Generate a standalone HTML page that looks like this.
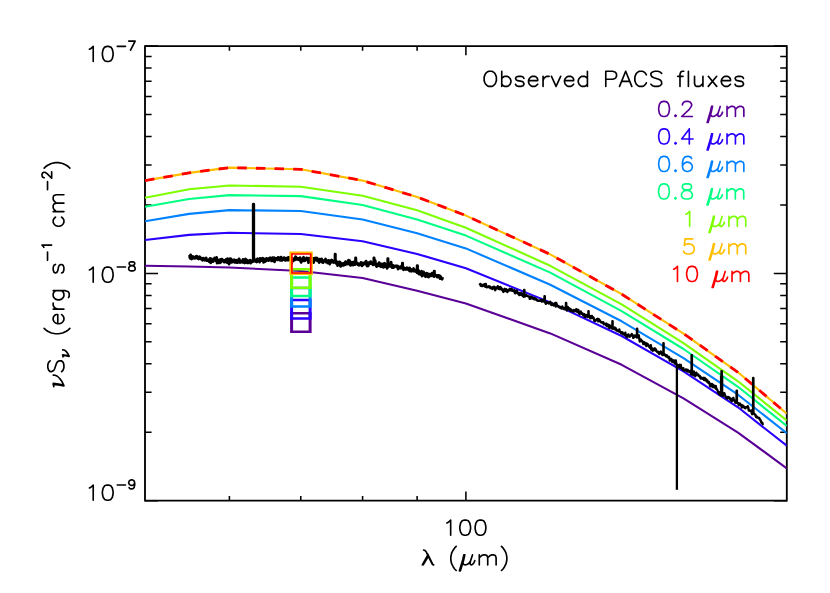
<!DOCTYPE html>
<html><head><meta charset="utf-8"><title>SED plot</title>
<style>html,body{margin:0;padding:0;background:#fff;font-family:"Liberation Sans",sans-serif;}svg{display:block}</style>
</head><body>
<svg width="830" height="593" viewBox="0 0 830 593">
<rect width="830" height="593" fill="#fff"/>
<g stroke="#000" fill="none" stroke-linecap="butt">
<path stroke-width="1.85" d="M145 45.175 V501.575 M786.8 45.175 V501.575"/>
<path stroke-width="1.75" d="M145 46.05 H786.8 M145 500.7 H786.8"/>
<path stroke-width="1.55" d="M229.41 500.70 v-4.8 M229.41 46.05 v4.8 M300.77 500.70 v-4.8 M300.77 46.05 v4.8 M362.59 500.70 v-4.8 M362.59 46.05 v4.8 M417.12 500.70 v-4.8 M417.12 46.05 v4.8 M465.90 500.70 v-9.2 M465.90 46.05 v9.2"/>
<path stroke-width="1.5" d="M145.00 46.05 h13 M786.80 46.05 h-13 M145.00 273.38 h13 M786.80 273.38 h-13 M145.00 204.94 h6.6 M786.80 204.94 h-6.6 M145.00 164.91 h6.6 M786.80 164.91 h-6.6 M145.00 136.51 h6.6 M786.80 136.51 h-6.6 M145.00 114.48 h6.6 M786.80 114.48 h-6.6 M145.00 96.48 h6.6 M786.80 96.48 h-6.6 M145.00 81.26 h6.6 M786.80 81.26 h-6.6 M145.00 68.08 h6.6 M786.80 68.08 h-6.6 M145.00 56.45 h6.6 M786.80 56.45 h-6.6 M145.00 500.70 h13 M786.80 500.70 h-13 M145.00 432.27 h6.6 M786.80 432.27 h-6.6 M145.00 392.24 h6.6 M786.80 392.24 h-6.6 M145.00 363.84 h6.6 M786.80 363.84 h-6.6 M145.00 341.81 h6.6 M786.80 341.81 h-6.6 M145.00 323.81 h6.6 M786.80 323.81 h-6.6 M145.00 308.59 h6.6 M786.80 308.59 h-6.6 M145.00 295.41 h6.6 M786.80 295.41 h-6.6 M145.00 283.78 h6.6 M786.80 283.78 h-6.6"/>
</g>
<clipPath id="cp"><rect x="145" y="46.05" width="641.8" height="454.65"/></clipPath>
<g clip-path="url(#cp)" fill="none" stroke-linejoin="round">
<polyline points="145.0,265.8 189.1,266.5 229.4,267.5 300.8,271.0 362.6,278.0 417.1,290.8 465.9,303.6 550.3,333.4 621.7,364.8 683.5,398.4 738.0,432.6 786.8,468.3" stroke="#5a0096" stroke-width="2.1"/>
<polyline points="145.0,240.0 189.1,234.9 229.4,232.8 300.8,234.0 362.6,241.2 417.1,253.9 465.9,268.3 550.3,302.4 621.7,336.0 683.5,371.3 738.0,407.3 786.8,445.8" stroke="#2a00ff" stroke-width="2.1"/>
<polyline points="145.0,221.2 189.1,213.9 229.4,210.1 300.8,211.0 362.6,219.5 417.1,233.2 465.9,248.4 550.3,284.7 621.7,321.3 683.5,358.2 738.0,394.7 786.8,433.3" stroke="#0082ff" stroke-width="2.1"/>
<polyline points="145.0,206.7 189.1,199.0 229.4,195.1 300.8,196.1 362.6,205.0 417.1,219.5 465.9,235.6 550.3,272.6 621.7,311.2 683.5,349.0 738.0,386.8 786.8,426.0" stroke="#00ff82" stroke-width="2.1"/>
<polyline points="145.0,197.8 189.1,189.3 229.4,185.5 300.8,186.7 362.6,195.8 417.1,210.3 465.9,227.7 550.3,265.8 621.7,304.4 683.5,343.2 738.0,381.3 786.8,420.5" stroke="#7dff00" stroke-width="2.1"/>
<polyline points="145.0,180.6 189.1,172.9 229.4,167.6 300.8,169.3 362.6,180.6 417.1,197.0 465.9,215.6 550.3,254.4 621.7,294.2 683.5,333.6 738.0,372.3 786.8,413.6" stroke="#ffbe00" stroke-width="2.1"/>
<polyline points="145.0,180.6 189.1,172.9 229.4,167.6 300.8,169.3 362.6,180.6 417.1,197.0 465.9,215.6 550.3,254.4 621.7,294.2 683.5,333.6 738.0,372.3 786.8,413.6" stroke="#ff0000" stroke-width="2.8" stroke-dasharray="9.5 9.15"/>
</g>
<polyline fill="none" stroke="#000" stroke-width="2.9" stroke-linejoin="round" points="188.6,256.8 189.1,256.6 189.6,256.4 190.1,258.2 190.6,255.0 191.1,257.6 191.6,259.0 192.1,257.3 192.6,258.5 193.1,256.6 193.6,257.9 194.1,257.4 194.6,258.3 195.1,258.3 195.6,257.8 196.1,256.3 196.6,256.2 197.1,256.6 197.6,258.5 198.1,257.2 198.6,258.9 199.1,258.4 199.6,256.8 200.1,257.3 200.6,258.5 201.1,259.0 201.6,258.5 202.1,259.1 202.6,260.2 203.1,258.2 203.6,259.7 204.1,259.3 204.6,260.1 205.1,259.5 205.6,258.4 206.1,258.0 206.6,260.5 207.1,260.5 207.6,260.3 208.1,260.3 208.6,259.8 209.1,261.5 209.6,260.5 210.1,258.5 210.6,262.7 211.1,261.1 211.6,259.0 212.1,260.2 212.6,261.0 213.1,261.5 213.6,260.4 214.1,259.8 214.6,258.1 215.1,260.1 215.6,259.3 216.1,260.9 216.6,257.5 217.1,263.0 217.6,259.8 218.1,260.6 218.6,262.2 219.1,262.8 219.6,262.8 220.1,259.7 220.6,262.3 221.1,261.3 221.6,259.1 222.1,259.3 222.6,260.1 223.1,261.1 223.6,260.9 224.1,261.9 224.6,260.5 225.1,261.9 225.6,261.0 226.1,259.6 226.6,261.3 227.1,262.5 227.6,258.7 228.1,262.2 228.6,261.1 229.1,264.0 229.6,261.8 230.1,258.7 230.6,259.4 231.1,259.1 231.6,262.2 232.1,260.6 232.6,261.8 233.1,260.4 233.6,260.3 234.1,259.8 234.6,262.3 235.1,262.4 235.6,260.9 236.1,260.2 236.6,261.4 237.1,262.6 237.6,262.5 238.1,261.6 238.6,260.1 239.1,258.9 239.6,261.1 240.1,262.5 240.6,261.9 241.1,261.0 241.6,261.6 242.1,262.2 242.6,262.3 243.1,259.5 243.6,261.3 244.1,261.0 244.6,262.9 245.1,260.5 245.6,259.1 246.1,262.3 246.6,261.5 247.1,262.7 247.6,260.3 248.1,262.9 248.6,261.7 249.1,262.0 249.6,261.6 250.1,260.2 250.6,263.0 251.1,261.6 251.6,261.4 252.1,260.8 252.6,261.8 253.1,260.1 253.3,261.2 253.3,204.3 253.7,204.3 253.7,261.2 253.6,259.4 254.1,258.6 254.6,260.3 255.1,260.8 255.6,261.4 256.1,260.4 256.6,261.9 257.1,259.4 257.6,258.8 258.1,260.8 258.6,259.9 259.1,260.3 259.6,262.1 260.1,258.4 260.6,260.7 261.1,259.3 261.6,260.6 262.1,259.9 262.6,258.2 263.1,258.3 263.6,262.3 264.1,261.0 264.6,259.4 265.1,261.5 265.6,259.0 266.1,260.8 266.6,258.5 267.1,259.2 267.6,259.0 268.1,258.8 268.6,260.6 269.1,259.7 269.6,258.2 270.1,257.7 270.6,259.3 271.1,259.6 271.6,260.9 272.1,260.9 272.6,257.7 273.1,258.1 273.6,260.0 274.1,257.7 274.6,261.7 275.1,259.7 275.6,258.9 276.1,258.3 276.6,258.4 277.1,259.1 277.6,259.6 278.1,257.5 278.6,257.9 279.1,257.7 279.6,258.7 280.1,260.3 280.6,260.1 281.1,257.3 281.6,258.9 282.1,260.4 282.6,258.8 283.1,258.7 283.6,259.6 284.1,257.7 284.6,259.4 285.1,260.2 285.6,260.3 286.1,259.9 286.6,258.3 287.1,259.1 287.6,258.1 288.1,260.2 288.6,257.4 289.1,257.9 289.6,258.7 290.1,257.2 290.6,259.0 291.1,261.2 291.6,263.3 292.1,259.2 292.6,261.3 293.1,259.9 293.6,258.7 294.1,259.1 294.6,259.9 295.1,259.6 295.6,256.8 296.1,259.4 296.6,258.6 297.1,258.3 297.6,259.3 298.1,259.5 298.6,258.5 299.1,258.7 299.6,260.1 300.1,257.6 300.6,260.2 301.1,262.4 301.6,260.4 302.1,260.8 302.6,259.1 303.1,259.3 303.6,257.3 304.1,260.9 304.6,258.7 305.1,260.6 305.6,259.8 306.1,259.3 306.6,257.9 307.1,258.8 307.6,258.5 308.1,260.2 308.6,262.6 309.1,258.1 309.6,259.1 310.1,259.5 310.6,258.4 311.1,259.0 311.6,259.6 312.1,260.7 312.6,260.3 313.1,258.5 313.6,262.5 314.1,258.8 314.6,258.2 315.1,258.9 315.6,260.1 316.1,258.0 316.6,260.0 317.1,258.2 317.6,260.8 318.1,260.4 318.6,260.4 319.1,262.5 319.6,259.2 320.1,260.3 320.6,261.2 321.1,260.6 321.6,259.0 322.1,262.1 322.6,262.4 323.1,262.5 323.6,260.7 324.1,261.0 324.6,260.2 325.1,261.0 325.6,259.1 326.1,262.1 326.6,260.8 327.1,261.1 327.6,262.9 328.1,262.0 328.6,260.5 329.1,262.1 329.6,264.0 330.1,262.4 330.6,262.1 331.1,260.5 331.6,260.0 332.1,262.2 332.6,261.8 333.1,260.9 333.6,262.4 334.1,261.8 334.6,262.1 335.1,261.8 335.1,262.5 335.1,254.2 335.3,254.2 335.3,262.5 335.6,261.0 336.1,260.9 336.6,263.7 337.1,262.6 337.6,265.6 338.1,262.4 338.6,264.1 339.1,261.9 339.6,261.9 340.1,262.4 340.6,266.4 341.1,263.3 341.6,264.5 342.1,265.3 342.6,263.6 343.1,263.7 343.6,265.3 344.1,263.1 344.6,264.2 345.1,264.6 345.6,261.6 346.1,264.2 346.6,262.7 347.1,263.2 347.6,263.9 348.1,262.8 348.6,260.1 349.1,264.1 349.6,260.7 350.1,263.3 350.6,265.3 351.1,264.2 351.6,262.8 352.1,262.3 352.6,262.9 353.1,265.1 353.6,264.4 354.1,262.0 354.6,264.1 355.1,264.4 355.6,263.4 355.6,263.5 355.6,258.0 355.8,258.0 355.8,263.5 356.1,261.7 356.6,263.0 357.1,263.8 357.6,263.3 358.1,264.7 358.6,263.7 359.1,265.2 359.6,264.4 360.1,263.8 360.6,264.8 361.1,262.4 361.6,262.7 362.1,265.8 362.6,263.6 363.1,264.7 363.6,263.1 364.1,263.9 364.6,263.6 365.1,262.4 365.6,263.6 366.1,261.1 366.6,264.9 367.1,265.9 367.6,263.3 368.1,265.9 368.6,262.8 369.1,263.6 369.6,263.7 370.1,263.4 370.6,261.7 371.1,263.5 371.6,262.9 372.1,263.1 372.6,263.0 373.1,264.8 373.6,263.7 373.9,264.0 373.9,257.9 374.1,257.9 374.1,264.0 374.1,263.1 374.6,264.2 375.1,260.5 375.6,264.3 376.1,265.2 376.6,266.6 377.1,264.8 377.6,266.0 378.1,264.1 378.6,265.6 379.1,262.7 379.6,264.5 380.1,265.3 380.6,266.4 381.1,263.9 381.6,265.5 382.1,266.7 382.6,266.0 383.1,263.9 383.6,267.2 384.1,264.9 384.6,263.3 385.1,264.2 385.6,266.6 386.1,264.7 386.6,264.7 387.1,268.2 387.6,264.3 387.8,265.4 387.8,258.6 388.0,258.6 388.0,265.4 388.1,265.8 388.6,266.5 389.1,263.7 389.6,266.1 390.1,266.2 390.6,265.1 391.1,262.3 391.6,266.7 392.1,267.6 392.6,267.0 393.1,265.5 393.6,267.6 394.1,266.3 394.6,266.2 395.1,266.4 395.6,266.2 396.1,265.8 396.6,266.8 397.1,266.4 397.6,266.1 398.1,269.0 398.6,267.9 399.1,268.0 399.6,267.1 400.1,267.9 400.6,268.1 401.1,267.0 401.6,265.9 402.1,268.2 402.4,268.0 402.4,263.2 402.6,263.2 402.6,268.0 402.6,267.3 403.1,267.2 403.6,269.7 404.1,268.5 404.6,268.1 405.1,269.3 405.6,269.4 406.1,269.1 406.6,269.3 407.1,267.8 407.6,269.2 408.1,268.6 408.6,269.3 409.1,270.3 409.6,268.0 410.1,271.0 410.6,269.2 411.1,271.1 411.6,271.2 412.1,270.7 412.6,270.5 413.1,270.1 413.6,268.6 414.1,271.1 414.6,270.8 415.1,271.3 415.6,271.4 416.1,270.0 416.6,272.0 417.1,272.8 417.2,271.7 417.2,265.8 417.5,265.8 417.5,271.7 417.6,272.7 418.1,271.1 418.6,270.6 419.1,274.1 419.6,272.2 420.1,273.5 420.6,274.4 421.1,273.5 421.6,271.1 422.1,276.0 422.6,272.6 423.1,274.0 423.6,272.0 424.1,274.8 424.6,273.6 425.1,276.2 425.6,276.6 426.1,273.5 426.6,273.2 427.1,273.3 427.6,273.7 428.1,276.9 428.6,277.0 429.1,276.1 429.6,274.2 430.1,274.4 430.6,275.1 431.1,275.8 431.6,274.6 432.1,273.2 432.6,275.4 433.1,274.6 433.6,276.3 434.1,276.5 434.2,275.5 434.2,271.1 434.4,271.1 434.4,275.5 434.6,275.2 435.1,275.3 435.6,275.0 436.1,275.6 436.6,275.7 437.1,276.9 437.6,277.1 438.1,275.5 438.6,275.4 439.1,276.4 439.6,275.9 440.1,278.5 440.6,276.6 441.1,277.6 441.6,278.8 442.1,279.2 442.6,277.2"/>
<polyline fill="none" stroke="#000" stroke-width="2.4" stroke-linejoin="round" points="479.3,283.4 479.8,283.9 480.3,284.4 480.8,285.8 481.3,284.6 481.8,286.0 482.3,285.0 482.8,285.9 483.3,285.6 483.8,285.3 484.3,284.2 484.8,285.7 485.3,286.8 485.8,283.9 486.3,286.8 486.8,287.2 487.3,286.4 487.8,287.1 488.3,286.6 488.8,286.2 489.3,287.1 489.8,286.4 490.3,288.1 490.8,288.1 491.3,287.5 491.8,287.7 492.3,289.0 492.8,287.1 493.3,287.0 493.8,287.4 494.3,286.7 494.8,289.6 495.3,290.2 495.8,288.7 496.3,287.5 496.8,288.0 497.3,288.2 497.8,286.2 498.3,288.1 498.8,289.0 499.3,287.8 499.8,289.2 500.3,286.9 500.8,288.9 501.3,288.1 501.8,289.7 502.3,289.2 502.8,290.6 503.3,291.9 503.8,290.0 504.3,289.4 504.8,288.8 505.3,291.0 505.8,290.3 506.3,289.3 506.8,290.9 507.3,292.1 507.8,290.5 508.3,290.0 508.8,290.4 509.3,289.4 509.8,288.8 510.3,290.4 510.8,289.2 511.3,289.6 511.8,289.1 512.3,290.8 512.8,290.8 513.3,290.8 513.8,291.2 514.3,290.0 514.8,292.8 515.3,293.3 515.8,292.2 516.3,291.0 516.8,290.5 517.3,292.5 517.8,293.2 518.3,293.0 518.8,294.4 519.3,295.0 519.8,293.0 520.3,293.1 520.8,294.7 521.3,294.8 521.8,293.3 522.3,295.3 522.8,296.0 523.3,295.8 523.8,296.7 524.1,295.0 524.1,289.9 524.4,289.9 524.4,295.0 524.3,294.5 524.8,296.5 525.3,296.1 525.8,295.8 526.3,295.1 526.8,295.7 527.3,295.6 527.8,296.2 528.3,296.2 528.8,296.7 529.3,296.6 529.8,298.9 530.3,296.6 530.8,298.5 531.3,297.2 531.8,297.0 532.3,297.4 532.8,297.9 533.3,298.9 533.8,298.3 534.3,299.3 534.8,298.1 535.3,298.8 535.8,299.6 536.3,299.3 536.8,299.7 537.3,300.5 537.8,300.3 538.3,300.9 538.8,300.7 539.3,300.8 539.8,300.4 540.3,300.8 540.8,299.8 541.3,300.8 541.8,301.6 542.3,301.4 542.8,299.9 543.3,301.1 543.8,301.2 544.3,300.4 544.5,301.7 544.5,296.2 544.8,296.2 544.8,301.7 544.8,301.8 545.3,302.5 545.8,303.7 546.3,303.6 546.8,302.2 547.3,302.5 547.8,302.8 548.3,302.6 548.8,303.5 549.3,302.5 549.8,302.2 550.3,301.8 550.8,304.0 551.3,304.9 551.8,303.9 552.3,303.6 552.8,304.9 553.3,304.6 553.8,305.5 554.3,303.7 554.8,305.0 555.3,303.0 555.8,306.5 556.3,303.0 556.8,305.1 557.3,305.3 557.8,305.8 558.3,306.6 558.8,307.0 559.3,306.9 559.8,306.7 560.3,308.0 560.8,307.5 561.3,307.7 561.8,308.6 562.3,306.5 562.8,307.6 563.3,308.0 563.8,308.6 564.3,309.2 564.8,307.7 565.3,308.8 565.8,309.0 566.0,308.6 566.0,302.9 566.2,302.9 566.2,308.6 566.3,308.7 566.8,310.4 567.3,310.2 567.8,307.0 568.3,309.2 568.8,309.1 569.3,308.3 569.8,309.4 570.3,310.7 570.8,309.3 571.3,310.0 571.8,311.3 572.3,311.1 572.8,310.6 573.3,311.4 573.8,310.1 574.3,311.4 574.8,311.4 575.3,310.4 575.8,309.7 576.3,309.2 576.8,310.8 577.3,312.1 577.8,312.1 578.3,309.8 578.8,312.0 579.3,313.8 579.8,312.2 580.3,312.7 580.8,311.6 581.3,313.7 581.8,313.6 582.3,313.2 582.8,313.9 583.3,315.5 583.8,315.7 584.3,314.2 584.8,317.1 585.3,315.5 585.8,316.7 586.3,315.1 586.8,315.3 587.3,315.3 587.8,317.1 588.3,315.4 588.4,316.6 588.4,311.2 588.6,311.2 588.6,316.6 588.8,316.0 589.3,315.4 589.8,316.0 590.3,318.4 590.8,317.1 591.3,317.9 591.8,315.9 592.3,317.7 592.8,317.1 593.3,317.3 593.8,318.7 594.3,320.7 594.8,320.2 595.3,321.0 595.8,320.0 596.3,320.1 596.8,319.2 597.3,320.1 597.8,318.8 598.3,321.4 598.8,319.2 599.3,321.1 599.8,320.2 600.3,321.2 600.8,322.4 601.3,322.3 601.8,322.4 602.3,322.8 602.8,322.4 603.3,322.2 603.8,324.2 604.3,323.8 604.8,323.9 605.3,324.0 605.8,325.1 606.3,323.6 606.8,326.0 607.3,324.5 607.8,324.4 608.3,326.5 608.8,324.9 609.3,328.0 609.8,325.4 610.3,327.0 610.8,326.3 611.3,327.6 611.8,328.1 612.3,328.6 612.4,328.0 612.4,321.3 612.6,321.3 612.6,328.0 612.8,328.7 613.3,328.5 613.8,328.8 614.3,327.9 614.8,327.6 615.3,329.5 615.8,328.3 616.3,330.1 616.8,330.6 617.3,330.2 617.8,330.9 618.3,330.6 618.8,331.4 619.3,329.5 619.8,331.8 620.3,331.9 620.8,331.9 621.3,333.4 621.8,332.5 622.3,332.2 622.8,332.9 623.3,334.2 623.8,334.5 624.3,334.7 624.8,334.7 625.3,332.7 625.8,335.8 626.3,335.4 626.8,337.2 627.3,335.2 627.8,335.6 628.3,334.4 628.8,336.3 629.3,335.5 629.8,336.7 630.3,336.2 630.8,335.2 631.3,335.3 631.8,334.0 632.3,335.2 632.8,335.7 633.3,337.9 633.8,335.8 634.3,335.7 634.8,336.9 635.3,335.6 635.8,336.5 636.3,335.9 636.8,335.8 637.0,337.5 637.0,328.7 637.2,328.7 637.2,337.5 637.3,337.1 637.8,336.8 638.3,336.5 638.8,335.4 639.3,338.8 639.8,341.5 640.3,339.6 640.8,339.4 641.3,340.9 641.8,340.6 642.3,341.8 642.8,341.5 643.3,344.0 643.8,342.3 644.3,342.3 644.8,344.1 645.3,344.4 645.8,343.2 646.3,346.0 646.8,344.0 647.3,343.7 647.8,344.5 648.3,345.6 648.8,346.4 649.3,345.9 649.8,347.8 650.3,347.8 650.8,345.2 651.3,349.6 651.8,349.9 652.3,348.4 652.8,350.7 653.3,349.5 653.8,349.9 654.3,348.8 654.8,348.3 655.3,350.2 655.8,349.2 656.3,351.0 656.8,351.3 657.3,352.0 657.8,352.5 658.3,351.7 658.8,353.2 659.3,354.0 659.8,352.9 660.3,352.7 660.8,351.5 661.3,353.1 661.8,354.0 662.3,354.8 662.8,355.1 663.3,352.8 663.4,354.4 663.4,343.3 663.6,343.3 663.6,354.4 663.8,354.3 664.3,353.8 664.8,355.2 665.3,355.5 665.8,355.3 666.3,356.6 666.8,355.3 667.3,356.6 667.8,356.9 668.3,357.7 668.8,356.8 669.3,357.4 669.8,360.5 670.3,360.4 670.8,360.4 671.3,358.9 671.8,359.8 672.3,362.0 672.8,361.4 673.3,361.2 673.8,360.2 674.3,362.7 674.8,363.5 675.3,362.7 675.8,360.4 676.3,364.4 676.8,364.3 677.3,366.9 677.8,365.6 678.3,366.0 678.8,365.2 679.3,367.2 679.8,364.8 680.3,367.7 680.8,365.0 681.3,367.9 681.8,368.6 682.3,368.7 682.8,369.5 683.3,368.2 683.8,370.3 684.3,370.1 684.8,370.5 685.3,370.2 685.8,369.5 686.3,369.4 686.8,370.3 687.3,371.5 687.8,370.0 688.3,370.7 688.8,371.0 689.3,372.0 689.8,372.2 690.3,371.0 690.8,372.6 691.3,374.4 691.6,372.5 691.6,355.2 691.9,355.2 691.9,372.5 691.8,371.6 692.3,374.2 692.8,373.6 693.3,375.2 693.8,371.4 694.3,373.9 694.8,374.4 695.3,376.2 695.8,375.4 696.3,372.6 696.8,374.8 697.3,374.2 697.8,375.0 698.3,374.6 698.8,376.1 699.3,375.7 699.8,376.2 700.3,377.9 700.8,378.6 701.3,377.5 701.8,378.5 702.3,378.7 702.8,378.3 703.3,377.8 703.8,379.8 704.3,380.0 704.8,378.0 705.3,380.3 705.8,380.4 706.3,379.4 706.8,381.5 707.3,380.3 707.8,381.7 708.3,382.8 708.8,381.9 709.3,382.8 709.8,384.7 710.3,386.3 710.8,384.5 711.3,386.1 711.8,383.9 712.3,386.6 712.8,387.1 713.3,384.9 713.8,385.8 714.3,386.7 714.8,387.6 715.3,387.3 715.8,386.0 716.3,389.0 716.8,389.1 717.3,389.9 717.8,391.1 718.3,392.5 718.8,392.2 719.3,394.6 719.8,392.3 720.3,393.9 720.8,395.3 721.3,392.0 721.5,394.1 721.5,371.1 721.8,371.1 721.8,394.1 721.8,394.5 722.3,392.9 722.8,396.0 723.3,395.0 723.8,395.2 724.3,393.1 724.8,394.8 725.3,395.8 725.8,397.2 726.3,398.1 726.8,398.2 727.3,398.5 727.8,396.9 728.3,398.1 728.8,397.4 729.3,397.4 729.8,398.8 730.3,398.4 730.8,400.5 731.3,398.8 731.8,401.0 732.3,400.7 732.8,400.0 733.3,397.9 733.8,399.7 734.3,400.4 734.8,400.6 735.3,402.6 735.8,402.7 736.3,401.5 736.6,402.6 736.6,390.8 736.9,390.8 736.9,402.6 736.8,402.7 737.3,403.0 737.8,403.3 738.3,403.2 738.8,405.2 739.3,403.9 739.8,403.4 740.3,404.5 740.8,404.7 741.3,405.9 741.8,407.5 742.3,405.3 742.8,406.3 743.3,405.8 743.8,406.9 744.3,407.7 744.8,407.8 745.3,408.2 745.8,407.3 746.3,407.2 746.8,407.3 747.3,407.1 747.8,406.2 748.3,407.7 748.8,410.5 749.3,410.5 749.8,410.8 750.3,410.7 750.8,410.6 751.3,410.5 751.8,413.6 752.3,414.2 752.8,412.6 753.1,412.8 753.1,377.9 753.4,377.9 753.4,412.8 753.3,413.1 753.8,413.2 754.3,414.2 754.8,414.4 755.3,414.6 755.8,416.3 756.3,417.0 756.8,416.6 757.3,417.6 757.8,417.6 758.3,417.7 758.8,418.3 759.3,418.1 759.8,419.5 760.3,419.6 760.8,420.9 761.3,422.4 761.8,422.9 762.3,422.8 762.8,424.2 763.3,423.8"/>
<line x1="676.9" y1="364" x2="676.9" y2="489.8" stroke="#000" stroke-width="2.3"/>
<line x1="721.6" y1="376" x2="721.6" y2="394" stroke="#000" stroke-width="3.4"/>
<line x1="253.5" y1="204.3" x2="253.5" y2="262" stroke="#000" stroke-width="2.8"/>
<path fill="#5a0096" fill-rule="evenodd" d="M290.10 312.00h21.50v21.00h-21.50z M293.10 314.50h15.50v16.00h-15.50z"/>
<path fill="#2a00ff" fill-rule="evenodd" d="M290.10 298.80h21.50v21.00h-21.50z M293.10 301.30h15.50v16.00h-15.50z"/>
<path fill="#0082ff" fill-rule="evenodd" d="M290.10 286.70h21.50v21.00h-21.50z M293.10 289.20h15.50v16.00h-15.50z"/>
<path fill="#00ff82" fill-rule="evenodd" d="M290.10 276.30h21.50v21.00h-21.50z M293.10 278.80h15.50v16.00h-15.50z"/>
<path fill="#7dff00" fill-rule="evenodd" d="M290.10 268.10h21.50v21.00h-21.50z M293.10 270.60h15.50v16.00h-15.50z"/>
<path fill="#ffbe00" fill-rule="evenodd" d="M289.40 251.40h23.40v23.60h-23.40z M292.40 254.10h17.40v18.20h-17.40z"/>
<path fill="#ff0000" fill-rule="evenodd" d="M291.10 253.30h20.50v20.40h-20.50z M292.75 254.75h17.20v17.50h-17.20z"/>
<path d="M488.74 71.28 L487.21 72.00 L485.68 73.44 L484.91 74.88 L484.15 77.04 L484.15 80.64 L484.91 82.80 L485.68 84.24 L487.21 85.68 L488.74 86.40 L491.80 86.40 L493.33 85.68 L494.86 84.24 L495.62 82.80 L496.39 80.64 L496.39 77.04 L495.62 74.88 L494.86 73.44 L493.33 72.00 L491.80 71.28 L488.74 71.28 M501.74 71.28 L501.74 86.40 M501.74 78.48 L503.27 77.04 L504.80 76.32 L507.10 76.32 L508.63 77.04 L510.16 78.48 L510.92 80.64 L510.92 82.08 L510.16 84.24 L508.63 85.68 L507.10 86.40 L504.80 86.40 L503.27 85.68 L501.74 84.24 M523.93 78.48 L523.16 77.04 L520.87 76.32 L518.57 76.32 L516.28 77.04 L515.51 78.48 L516.28 79.92 L517.81 80.64 L521.63 81.36 L523.16 82.08 L523.93 83.52 L523.93 84.24 L523.16 85.68 L520.87 86.40 L518.57 86.40 L516.28 85.68 L515.51 84.24 M528.52 80.64 L537.70 80.64 L537.70 79.20 L536.93 77.76 L536.17 77.04 L534.64 76.32 L532.34 76.32 L530.81 77.04 L529.28 78.48 L528.52 80.64 L528.52 82.08 L529.28 84.24 L530.81 85.68 L532.34 86.40 L534.64 86.40 L536.17 85.68 L537.70 84.24 M543.05 76.32 L543.05 86.40 M543.05 80.64 L543.82 78.48 L545.35 77.04 L546.88 76.32 L549.17 76.32 M551.47 76.32 L556.06 86.40 M560.65 76.32 L556.06 86.40 M564.47 80.64 L573.65 80.64 L573.65 79.20 L572.89 77.76 L572.12 77.04 L570.59 76.32 L568.30 76.32 L566.77 77.04 L565.24 78.48 L564.47 80.64 L564.47 82.08 L565.24 84.24 L566.77 85.68 L568.30 86.40 L570.59 86.40 L572.12 85.68 L573.65 84.24 M587.42 71.28 L587.42 86.40 M587.42 78.48 L585.89 77.04 L584.37 76.32 L582.07 76.32 L580.54 77.04 L579.01 78.48 L578.25 80.64 L578.25 82.08 L579.01 84.24 L580.54 85.68 L582.07 86.40 L584.37 86.40 L585.89 85.68 L587.42 84.24 M605.78 71.28 L605.78 86.40 M605.78 71.28 L612.67 71.28 L614.96 72.00 L615.73 72.72 L616.50 74.16 L616.50 76.32 L615.73 77.76 L614.96 78.48 L612.67 79.20 L605.78 79.20 M625.67 71.28 L619.55 86.40 M625.67 71.28 L631.79 86.40 M621.85 81.36 L629.50 81.36 M646.33 74.88 L645.56 73.44 L644.03 72.00 L642.50 71.28 L639.44 71.28 L637.91 72.00 L636.38 73.44 L635.62 74.88 L634.86 77.04 L634.86 80.64 L635.62 82.80 L636.38 84.24 L637.91 85.68 L639.44 86.40 L642.50 86.40 L644.03 85.68 L645.56 84.24 L646.33 82.80 M661.63 73.44 L660.10 72.00 L657.80 71.28 L654.75 71.28 L652.45 72.00 L650.92 73.44 L650.92 74.88 L651.68 76.32 L652.45 77.04 L653.98 77.76 L658.57 79.20 L660.10 79.92 L660.87 80.64 L661.63 82.08 L661.63 84.24 L660.10 85.68 L657.80 86.40 L654.75 86.40 L652.45 85.68 L650.92 84.24 M683.81 71.28 L682.28 71.28 L680.75 72.00 L679.99 74.16 L679.99 86.40 M677.69 76.32 L683.05 76.32 M688.40 71.28 L688.40 86.40 M694.52 76.32 L694.52 83.52 L695.29 85.68 L696.82 86.40 L699.12 86.40 L700.64 85.68 L702.94 83.52 M702.94 76.32 L702.94 86.40 M708.29 76.32 L716.71 86.40 M716.71 76.32 L708.29 86.40 M721.30 80.64 L730.48 80.64 L730.48 79.20 L729.71 77.76 L728.95 77.04 L727.42 76.32 L725.12 76.32 L723.60 77.04 L722.06 78.48 L721.30 80.64 L721.30 82.08 L722.06 84.24 L723.60 85.68 L725.12 86.40 L727.42 86.40 L728.95 85.68 L730.48 84.24 M743.48 78.48 L742.72 77.04 L740.42 76.32 L738.13 76.32 L735.84 77.04 L735.07 78.48 L735.84 79.92 L737.37 80.64 L741.19 81.36 L742.72 82.08 L743.48 83.52 L743.48 84.24 L742.72 85.68 L740.42 86.40 L738.13 86.40 L735.84 85.68 L735.07 84.24" fill="none" stroke="#000" stroke-width="1.65" stroke-linecap="round" stroke-linejoin="round"/>
<path d="M663.29 101.38 L661.00 102.10 L659.47 104.26 L658.70 107.86 L658.70 110.02 L659.47 113.62 L661.00 115.78 L663.29 116.50 L664.82 116.50 L667.12 115.78 L668.65 113.62 L669.41 110.02 L669.41 107.86 L668.65 104.26 L667.12 102.10 L664.82 101.38 L663.29 101.38 M675.53 115.06 L674.77 115.78 L675.53 116.50 L676.30 115.78 L675.53 115.06 M682.42 104.98 L682.42 104.26 L683.18 102.82 L683.95 102.10 L685.48 101.38 L688.54 101.38 L690.07 102.10 L690.83 102.82 L691.60 104.26 L691.60 105.70 L690.83 107.14 L689.30 109.30 L681.65 116.50 L692.36 116.50 M711.57 106.42 L710.42 111.46 L708.51 117.94 L707.13 122.48 M712.56 106.42 L711.41 111.46 L709.50 117.94 L708.12 122.48 M712.03 106.42 L708.97 117.94 L707.59 122.48 M710.80 112.90 L710.80 115.06 L711.57 116.14 L713.10 116.50 L714.63 116.14 L716.39 115.06 L718.15 112.90 M720.21 106.42 L718.15 112.90 L717.76 115.06 L718.15 116.14 L719.22 116.50 L720.44 115.78 L721.66 114.34 L722.58 112.18 M727.02 106.42 L727.02 116.50 M727.02 109.30 L729.31 107.14 L730.84 106.42 L733.14 106.42 L734.67 107.14 L735.43 109.30 L735.43 116.50 M735.43 109.30 L737.73 107.14 L739.26 106.42 L741.55 106.42 L743.08 107.14 L743.85 109.30 L743.85 116.50" fill="none" stroke="#5a0096" stroke-width="1.65" stroke-linecap="round" stroke-linejoin="round"/>
<path d="M663.29 128.88 L661.00 129.60 L659.47 131.76 L658.70 135.36 L658.70 137.52 L659.47 141.12 L661.00 143.28 L663.29 144.00 L664.82 144.00 L667.12 143.28 L668.65 141.12 L669.41 137.52 L669.41 135.36 L668.65 131.76 L667.12 129.60 L664.82 128.88 L663.29 128.88 M675.53 142.56 L674.77 143.28 L675.53 144.00 L676.30 143.28 L675.53 142.56 M689.30 128.88 L681.65 138.96 L693.13 138.96 M689.30 128.88 L689.30 144.00 M711.57 133.92 L710.42 138.96 L708.51 145.44 L707.13 149.98 M712.56 133.92 L711.41 138.96 L709.50 145.44 L708.12 149.98 M712.03 133.92 L708.97 145.44 L707.59 149.98 M710.80 140.40 L710.80 142.56 L711.57 143.64 L713.10 144.00 L714.63 143.64 L716.39 142.56 L718.15 140.40 M720.21 133.92 L718.15 140.40 L717.76 142.56 L718.15 143.64 L719.22 144.00 L720.44 143.28 L721.66 141.84 L722.58 139.68 M727.02 133.92 L727.02 144.00 M727.02 136.80 L729.31 134.64 L730.84 133.92 L733.14 133.92 L734.67 134.64 L735.43 136.80 L735.43 144.00 M735.43 136.80 L737.73 134.64 L739.26 133.92 L741.55 133.92 L743.08 134.64 L743.85 136.80 L743.85 144.00" fill="none" stroke="#2a00ff" stroke-width="1.65" stroke-linecap="round" stroke-linejoin="round"/>
<path d="M663.29 156.38 L661.00 157.10 L659.47 159.26 L658.70 162.86 L658.70 165.02 L659.47 168.62 L661.00 170.78 L663.29 171.50 L664.82 171.50 L667.12 170.78 L668.65 168.62 L669.41 165.02 L669.41 162.86 L668.65 159.26 L667.12 157.10 L664.82 156.38 L663.29 156.38 M675.53 170.06 L674.77 170.78 L675.53 171.50 L676.30 170.78 L675.53 170.06 M691.60 158.54 L690.83 157.10 L688.54 156.38 L687.01 156.38 L684.71 157.10 L683.18 159.26 L682.42 162.86 L682.42 166.46 L683.18 169.34 L684.71 170.78 L687.01 171.50 L687.77 171.50 L690.07 170.78 L691.60 169.34 L692.36 167.18 L692.36 166.46 L691.60 164.30 L690.07 162.86 L687.77 162.14 L687.01 162.14 L684.71 162.86 L683.18 164.30 L682.42 166.46 M711.57 161.42 L710.42 166.46 L708.51 172.94 L707.13 177.48 M712.56 161.42 L711.41 166.46 L709.50 172.94 L708.12 177.48 M712.03 161.42 L708.97 172.94 L707.59 177.48 M710.80 167.90 L710.80 170.06 L711.57 171.14 L713.10 171.50 L714.63 171.14 L716.39 170.06 L718.15 167.90 M720.21 161.42 L718.15 167.90 L717.76 170.06 L718.15 171.14 L719.22 171.50 L720.44 170.78 L721.66 169.34 L722.58 167.18 M727.02 161.42 L727.02 171.50 M727.02 164.30 L729.31 162.14 L730.84 161.42 L733.14 161.42 L734.67 162.14 L735.43 164.30 L735.43 171.50 M735.43 164.30 L737.73 162.14 L739.26 161.42 L741.55 161.42 L743.08 162.14 L743.85 164.30 L743.85 171.50" fill="none" stroke="#0082ff" stroke-width="1.65" stroke-linecap="round" stroke-linejoin="round"/>
<path d="M663.19 183.88 L660.90 184.60 L659.37 186.76 L658.60 190.36 L658.60 192.52 L659.37 196.12 L660.90 198.28 L663.19 199.00 L664.72 199.00 L667.02 198.28 L668.55 196.12 L669.31 192.52 L669.31 190.36 L668.55 186.76 L667.02 184.60 L664.72 183.88 L663.19 183.88 M675.43 197.56 L674.67 198.28 L675.43 199.00 L676.20 198.28 L675.43 197.56 M685.38 183.88 L683.08 184.60 L682.32 186.04 L682.32 187.48 L683.08 188.92 L684.61 189.64 L687.67 190.36 L689.97 191.08 L691.50 192.52 L692.26 193.96 L692.26 196.12 L691.50 197.56 L690.73 198.28 L688.44 199.00 L685.38 199.00 L683.08 198.28 L682.32 197.56 L681.55 196.12 L681.55 193.96 L682.32 192.52 L683.85 191.08 L686.14 190.36 L689.20 189.64 L690.73 188.92 L691.50 187.48 L691.50 186.04 L690.73 184.60 L688.44 183.88 L685.38 183.88 M711.47 188.92 L710.32 193.96 L708.41 200.44 L707.03 204.98 M712.46 188.92 L711.31 193.96 L709.40 200.44 L708.02 204.98 M711.93 188.92 L708.87 200.44 L707.49 204.98 M710.70 195.40 L710.70 197.56 L711.47 198.64 L713.00 199.00 L714.53 198.64 L716.29 197.56 L718.05 195.40 M720.11 188.92 L718.05 195.40 L717.66 197.56 L718.05 198.64 L719.12 199.00 L720.34 198.28 L721.57 196.84 L722.48 194.68 M726.92 188.92 L726.92 199.00 M726.92 191.80 L729.22 189.64 L730.75 188.92 L733.04 188.92 L734.57 189.64 L735.34 191.80 L735.34 199.00 M735.34 191.80 L737.63 189.64 L739.16 188.92 L741.46 188.92 L742.99 189.64 L743.75 191.80 L743.75 199.00" fill="none" stroke="#00ff82" stroke-width="1.65" stroke-linecap="round" stroke-linejoin="round"/>
<path d="M685.85 214.26 L687.38 213.54 L689.67 211.38 L689.67 226.50 M713.47 216.42 L712.32 221.46 L710.41 227.94 L709.03 232.48 M714.46 216.42 L713.31 221.46 L711.40 227.94 L710.02 232.48 M713.93 216.42 L710.87 227.94 L709.49 232.48 M712.70 222.90 L712.70 225.06 L713.47 226.14 L715.00 226.50 L716.53 226.14 L718.29 225.06 L720.05 222.90 M722.11 216.42 L720.05 222.90 L719.66 225.06 L720.05 226.14 L721.12 226.50 L722.34 225.78 L723.56 224.34 L724.48 222.18 M728.92 216.42 L728.92 226.50 M728.92 219.30 L731.21 217.14 L732.75 216.42 L735.04 216.42 L736.57 217.14 L737.34 219.30 L737.34 226.50 M737.34 219.30 L739.63 217.14 L741.16 216.42 L743.45 216.42 L744.99 217.14 L745.75 219.30 L745.75 226.50" fill="none" stroke="#7dff00" stroke-width="1.65" stroke-linecap="round" stroke-linejoin="round"/>
<path d="M692.73 238.88 L685.08 238.88 L684.32 245.36 L685.08 244.64 L687.38 243.92 L689.67 243.92 L691.97 244.64 L693.50 246.08 L694.26 248.24 L694.26 249.68 L693.50 251.84 L691.97 253.28 L689.67 254.00 L687.38 254.00 L685.08 253.28 L684.32 252.56 L683.55 251.12 M713.47 243.92 L712.32 248.96 L710.41 255.44 L709.03 259.98 M714.46 243.92 L713.31 248.96 L711.40 255.44 L710.02 259.98 M713.93 243.92 L710.87 255.44 L709.49 259.98 M712.70 250.40 L712.70 252.56 L713.47 253.64 L715.00 254.00 L716.53 253.64 L718.29 252.56 L720.05 250.40 M722.11 243.92 L720.05 250.40 L719.66 252.56 L720.05 253.64 L721.12 254.00 L722.34 253.28 L723.56 251.84 L724.48 249.68 M728.92 243.92 L728.92 254.00 M728.92 246.80 L731.21 244.64 L732.75 243.92 L735.04 243.92 L736.57 244.64 L737.34 246.80 L737.34 254.00 M737.34 246.80 L739.63 244.64 L741.16 243.92 L743.45 243.92 L744.99 244.64 L745.75 246.80 L745.75 254.00" fill="none" stroke="#ffbe00" stroke-width="1.65" stroke-linecap="round" stroke-linejoin="round"/>
<path d="M673.65 269.26 L675.18 268.54 L677.47 266.38 L677.47 281.50 M691.24 266.38 L688.95 267.10 L687.42 269.26 L686.65 272.86 L686.65 275.02 L687.42 278.62 L688.95 280.78 L691.24 281.50 L692.77 281.50 L695.07 280.78 L696.60 278.62 L697.36 275.02 L697.36 272.86 L696.60 269.26 L695.07 267.10 L692.77 266.38 L691.24 266.38 M716.57 271.42 L715.42 276.46 L713.51 282.94 L712.13 287.48 M717.56 271.42 L716.41 276.46 L714.50 282.94 L713.12 287.48 M717.03 271.42 L713.97 282.94 L712.59 287.48 M715.80 277.90 L715.80 280.06 L716.57 281.14 L718.10 281.50 L719.63 281.14 L721.39 280.06 L723.15 277.90 M725.21 271.42 L723.15 277.90 L722.76 280.06 L723.15 281.14 L724.22 281.50 L725.44 280.78 L726.66 279.34 L727.58 277.18 M732.02 271.42 L732.02 281.50 M732.02 274.30 L734.31 272.14 L735.84 271.42 L738.14 271.42 L739.67 272.14 L740.43 274.30 L740.43 281.50 M740.43 274.30 L742.73 272.14 L744.26 271.42 L746.55 271.42 L748.08 272.14 L748.85 274.30 L748.85 281.50" fill="none" stroke="#ff0000" stroke-width="1.65" stroke-linecap="round" stroke-linejoin="round"/>
<path d="M446.84 522.96 L448.37 522.24 L450.66 520.08 L450.66 535.20 M464.43 520.08 L462.14 520.80 L460.61 522.96 L459.84 526.56 L459.84 528.72 L460.61 532.32 L462.14 534.48 L464.43 535.20 L465.96 535.20 L468.26 534.48 L469.79 532.32 L470.55 528.72 L470.55 526.56 L469.79 522.96 L468.26 520.80 L465.96 520.08 L464.43 520.08 M479.73 520.08 L477.44 520.80 L475.91 522.96 L475.14 526.56 L475.14 528.72 L475.91 532.32 L477.44 534.48 L479.73 535.20 L481.26 535.20 L483.56 534.48 L485.09 532.32 L485.85 528.72 L485.85 526.56 L485.09 522.96 L483.56 520.80 L481.26 520.08 L479.73 520.08" fill="none" stroke="#000" stroke-width="1.65" stroke-linecap="round" stroke-linejoin="round"/>
<path d="M423.60 550.03 L425.05 550.60 L426.36 552.03 L427.12 553.82 L432.09 563.83 L432.86 564.69 L433.70 564.90 M427.58 553.82 L432.55 563.83 M427.73 555.25 L422.30 564.90 M428.34 556.32 L423.22 564.90 M456.19 546.45 L454.66 547.95 L453.13 550.21 L451.60 553.21 L450.83 556.96 L450.83 559.97 L451.60 563.72 L453.13 566.72 L454.66 568.98 L456.19 570.48 M463.84 554.89 L462.69 559.89 L460.78 566.33 L459.40 570.83 M464.83 554.89 L463.69 559.89 L461.77 566.33 L460.40 570.83 M464.30 554.89 L461.24 566.33 L459.86 570.83 M463.07 561.32 L463.07 563.47 L463.84 564.54 L465.37 564.90 L466.90 564.54 L468.66 563.47 L470.42 561.32 M472.48 554.89 L470.42 561.32 L470.04 563.47 L470.42 564.54 L471.49 564.90 L472.71 564.18 L473.94 562.75 L474.86 560.61 M479.29 554.89 L479.29 564.90 M479.29 557.75 L481.59 555.61 L483.12 554.89 L485.41 554.89 L486.94 555.61 L487.71 557.75 L487.71 564.90 M487.71 557.75 L490.00 555.61 L491.53 554.89 L493.83 554.89 L495.36 555.61 L496.12 557.75 L496.12 564.90 M501.48 546.45 L503.01 547.95 L504.54 550.21 L506.07 553.21 L506.83 556.96 L506.83 559.97 L506.07 563.72 L504.54 566.72 L503.01 568.98 L501.48 570.48" fill="none" stroke="#000" stroke-width="1.65" stroke-linecap="round" stroke-linejoin="round"/>
<path d="M89.39 49.26 L90.92 48.54 L93.22 46.38 L93.22 61.50 M106.98 46.38 L104.69 47.10 L103.16 49.26 L102.39 52.86 L102.39 55.02 L103.16 58.62 L104.69 60.78 L106.98 61.50 L108.52 61.50 L110.81 60.78 L112.34 58.62 L113.10 55.02 L113.10 52.86 L112.34 49.26 L110.81 47.10 L108.52 46.38 L106.98 46.38 M117.24 46.31 L125.50 46.31 M135.14 41.12 L130.55 50.20 M128.71 41.12 L135.14 41.12" fill="none" stroke="#000" stroke-width="1.65" stroke-linecap="round" stroke-linejoin="round"/>
<path d="M89.39 269.96 L90.92 269.24 L93.22 267.08 L93.22 282.20 M106.98 267.08 L104.69 267.80 L103.16 269.96 L102.39 273.56 L102.39 275.72 L103.16 279.32 L104.69 281.48 L106.98 282.20 L108.52 282.20 L110.81 281.48 L112.34 279.32 L113.10 275.72 L113.10 273.56 L112.34 269.96 L110.81 267.80 L108.52 267.08 L106.98 267.08 M117.24 267.01 L125.50 267.01 M131.01 261.82 L129.63 262.26 L129.17 263.12 L129.17 263.98 L129.63 264.85 L130.55 265.28 L132.38 265.71 L133.76 266.14 L134.68 267.01 L135.14 267.87 L135.14 269.17 L134.68 270.03 L134.22 270.46 L132.84 270.90 L131.01 270.90 L129.63 270.46 L129.17 270.03 L128.71 269.17 L128.71 267.87 L129.17 267.01 L130.09 266.14 L131.47 265.71 L133.30 265.28 L134.22 264.85 L134.68 263.98 L134.68 263.12 L134.22 262.26 L132.84 261.82 L131.01 261.82" fill="none" stroke="#000" stroke-width="1.65" stroke-linecap="round" stroke-linejoin="round"/>
<path d="M89.39 487.96 L90.92 487.24 L93.22 485.08 L93.22 500.20 M106.98 485.08 L104.69 485.80 L103.16 487.96 L102.39 491.56 L102.39 493.72 L103.16 497.32 L104.69 499.48 L106.98 500.20 L108.52 500.20 L110.81 499.48 L112.34 497.32 L113.10 493.72 L113.10 491.56 L112.34 487.96 L110.81 485.80 L108.52 485.08 L106.98 485.08 M117.24 485.01 L125.50 485.01 M134.68 482.85 L134.22 484.14 L133.30 485.01 L131.92 485.44 L131.47 485.44 L130.09 485.01 L129.17 484.14 L128.71 482.85 L128.71 482.42 L129.17 481.12 L130.09 480.26 L131.47 479.82 L131.92 479.82 L133.30 480.26 L134.22 481.12 L134.68 482.85 L134.68 485.01 L134.22 487.17 L133.30 488.46 L131.92 488.90 L131.01 488.90 L129.63 488.46 L129.17 487.60" fill="none" stroke="#000" stroke-width="1.65" stroke-linecap="round" stroke-linejoin="round"/>
<path d="M53.80 386.62 L53.19 384.31 L58.55 384.92 L63.90 385.85 M53.19 383.38 L58.55 384.15 L63.67 385.07 M53.19 375.06 L55.10 375.22 L57.40 376.22 L59.69 378.53 L61.99 381.61 L63.90 385.61 M50.13 360.82 L48.60 362.36 L47.83 364.67 L47.83 367.75 L48.60 370.06 L50.13 371.60 L51.66 371.60 L53.19 370.83 L53.95 370.06 L54.72 368.52 L56.25 363.90 L57.02 362.36 L57.78 361.59 L59.31 360.82 L61.60 360.82 L63.13 362.36 L63.90 364.67 L63.90 367.75 L63.13 370.06 L61.60 371.60 M63.04 356.80 L62.68 355.41 L65.89 355.78 L69.10 356.34 M62.68 354.86 L65.89 355.32 L68.96 355.88 M62.68 349.87 L63.82 349.96 L65.20 350.56 L66.58 351.95 L67.95 353.80 L69.10 356.20 M44.16 328.39 L45.77 329.93 L48.18 331.47 L51.39 333.01 L55.41 333.78 L58.62 333.78 L62.64 333.01 L65.85 331.47 L68.26 329.93 L69.87 328.39 M57.78 323.77 L57.78 314.53 L56.25 314.53 L54.72 315.30 L53.95 316.07 L53.19 317.61 L53.19 319.92 L53.95 321.46 L55.48 323.00 L57.78 323.77 L59.31 323.77 L61.60 323.00 L63.13 321.46 L63.90 319.92 L63.90 317.61 L63.13 316.07 L61.60 314.53 M53.19 309.14 L63.90 309.14 M57.78 309.14 L55.48 308.37 L53.95 306.83 L53.19 305.29 L53.19 302.98 M53.19 290.66 L65.43 290.66 L67.72 291.43 L68.49 292.20 L69.25 293.74 L69.25 296.05 L68.49 297.59 M55.48 290.66 L53.95 292.20 L53.19 293.74 L53.19 296.05 L53.95 297.59 L55.48 299.13 L57.78 299.90 L59.31 299.90 L61.60 299.13 L63.13 297.59 L63.90 296.05 L63.90 293.74 L63.13 292.20 L61.60 290.66 M55.48 264.48 L53.95 265.25 L53.19 267.56 L53.19 269.87 L53.95 272.18 L55.48 272.95 L57.02 272.18 L57.78 270.64 L58.55 266.79 L59.31 265.25 L60.84 264.48 L61.60 264.48 L63.13 265.25 L63.90 267.56 L63.90 269.87 L63.13 272.18 L61.60 272.95 M47.53 260.32 L47.53 252.00 M43.86 247.38 L43.40 246.46 L42.02 245.07 L51.66 245.07 M55.48 217.05 L53.95 218.59 L53.19 220.13 L53.19 222.44 L53.95 223.98 L55.48 225.52 L57.78 226.29 L59.31 226.29 L61.60 225.52 L63.13 223.98 L63.90 222.44 L63.90 220.13 L63.13 218.59 L61.60 217.05 M53.19 211.66 L63.90 211.66 M56.25 211.66 L53.95 209.35 L53.19 207.81 L53.19 205.50 L53.95 203.96 L56.25 203.19 L63.90 203.19 M56.25 203.19 L53.95 200.88 L53.19 199.34 L53.19 197.03 L53.95 195.49 L56.25 194.72 L63.90 194.72 M47.53 189.79 L47.53 181.47 M44.32 177.78 L43.86 177.78 L42.94 177.31 L42.48 176.85 L42.02 175.93 L42.02 174.08 L42.48 173.16 L42.94 172.69 L43.86 172.23 L44.77 172.23 L45.69 172.69 L47.07 173.62 L51.66 178.24 L51.66 171.77 M44.16 168.07 L45.77 166.53 L48.18 164.99 L51.39 163.45 L55.41 162.68 L58.62 162.68 L62.64 163.45 L65.85 164.99 L68.26 166.53 L69.87 168.07" fill="none" stroke="#000" stroke-width="1.65" stroke-linecap="round" stroke-linejoin="round"/>
</svg>
</body></html>
